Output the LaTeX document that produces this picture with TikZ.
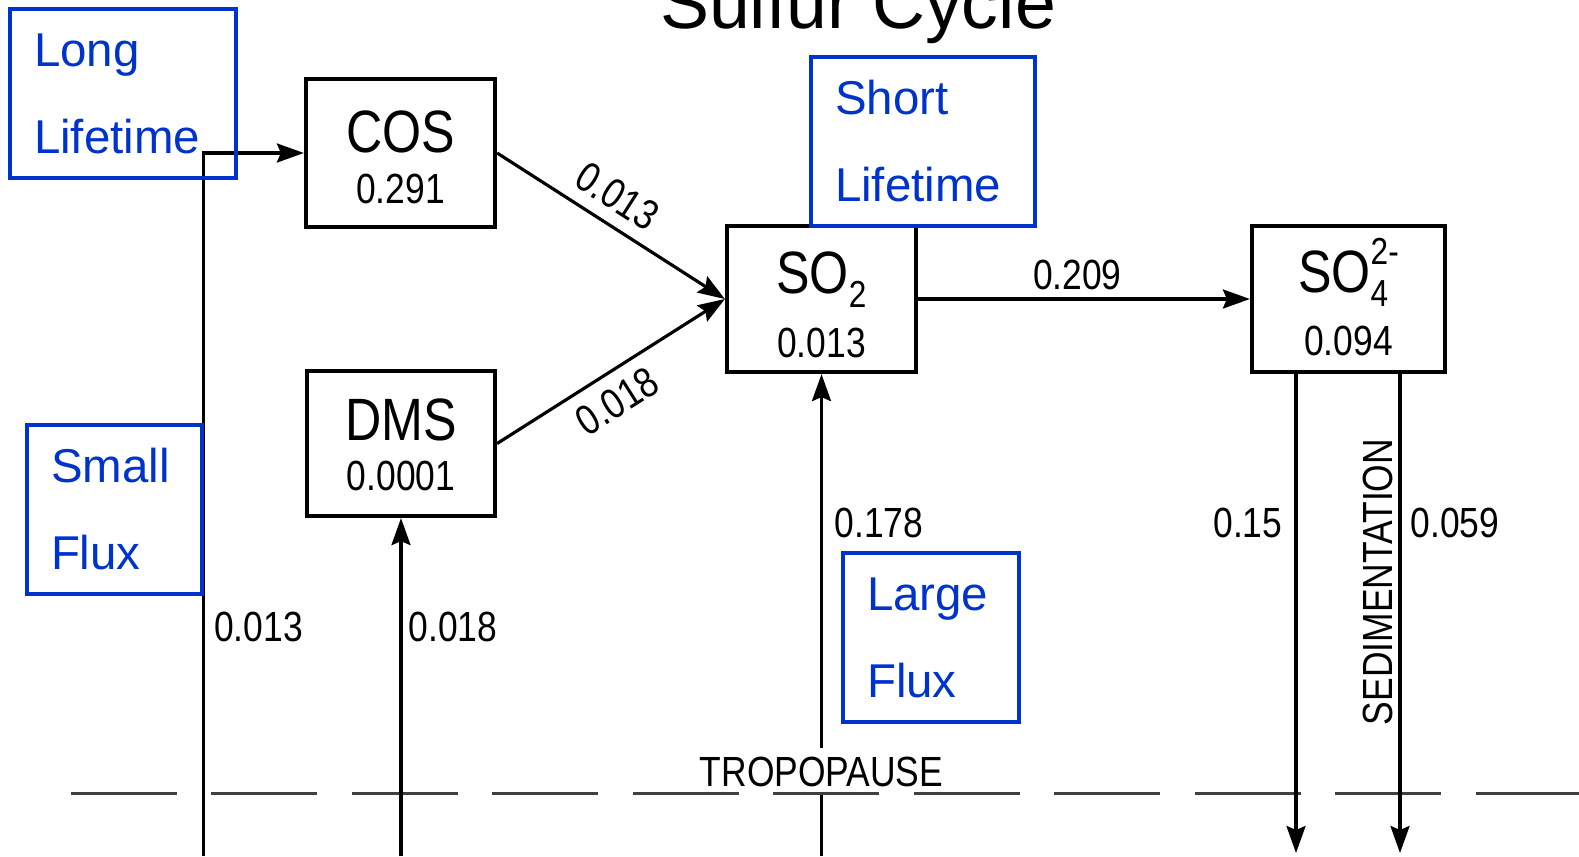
\documentclass[tikz,border=0pt]{standalone}
\usepackage{fontspec}
\setmainfont{Liberation Sans}
\newfontfamily\scanfont[FakeStretch=0.84]{Liberation Sans}
\usetikzlibrary{arrows.meta}
\definecolor{noteBlue}{RGB}{0,51,204}

\begin{document}
\begin{tikzpicture}[
  species/.style={
    draw,
    line width=1.2pt,
    inner sep=0pt
  },
  big/.style={font={\scanfont\fontsize{17}{20}\selectfont}, inner sep=0pt},
  mass/.style={font={\scanfont\fontsize{12}{14}\selectfont}, inner sep=0pt},
  flux/.style={font={\scanfont\fontsize{12}{14}\selectfont}, inner sep=0pt},
  link/.style={line width=0.9pt},
  flow/.style={line width=0.9pt, -{Stealth[length=0.27cm,width=0.19cm,inset=0.04cm]}},
  tropoline/.style={line width=0.9pt, black!75, dash pattern=on 1.06cm off 0.345cm},
  note/.style={
    draw=noteBlue,
    line width=1.4pt,
    text=noteBlue,
    align=left,
    inner xsep=0.24cm,
    minimum height=1.69cm,
    font={\fontsize{13.5}{24.75}\selectfont}
  }
]
  \useasboundingbox (0,0) rectangle (15.79,8.56);
  \coordinate (base) at (0,0);

  % tropopause
  \coordinate (tropoW) at (0.705,0.625);
  \coordinate (tropoE) at (15.79,0.625);
  \draw[tropoline] (tropoW) -- (tropoE);
  \node[flux, anchor=base, inner ysep=0.075cm] (tropo) at (8.215,0.70) {TROPOPAUSE};

  % reservoirs
  \node[species,minimum width=1.89cm,minimum height=1.48cm] (cos) at (4.005,7.03) {};
  \node[big,anchor=base] (cosname) at ([yshift=0.01cm]cos.center) {COS};
  \node[mass,anchor=base] (cosmass) at ([yshift=-0.50cm]cos.center) {0.291};

  \node[species,minimum width=1.88cm,minimum height=1.45cm] (dms) at (4.01,4.125) {};
  \node[big,anchor=base] (dmsname) at ([yshift=0.035cm]dms.center) {DMS};
  \node[mass,anchor=base] (dmsmass) at ([yshift=-0.465cm]dms.center) {0.0001};

  \node[species,minimum width=1.89cm,minimum height=1.46cm] (so2) at (8.215,5.57) {};
  \node[big,anchor=base] (so2name) at ([yshift=0.06cm]so2.center)
    {SO\raisebox{-0.14cm}{\fontsize{10.7}{12}\selectfont 2}};
  \node[mass,anchor=base] (so2mass) at ([yshift=-0.58cm]so2.center) {0.013};

  \node[species,minimum width=1.93cm,minimum height=1.46cm] (so4) at (13.485,5.57) {};
  \node[big,anchor=base] (so4name) at ([yshift=0.07cm]so4.center)
    {SO\rlap{\raisebox{-0.14cm}{\fontsize{10.7}{12}\selectfont 4}}\raisebox{0.28cm}{\fontsize{10.7}{12}\selectfont 2-}};
  \node[mass,anchor=base] (so4mass) at ([yshift=-0.565cm]so4.center) {0.094};

  % sources and sinks
  \coordinate (cossrc) at (2.035,0);
  \coordinate (dmssrc) at (dms.south |- base);
  \coordinate (so2src) at (so2.south |- base);
  \coordinate (washout) at (12.96,0.03);
  \coordinate (sedsink) at (14.00,0.03);

  \draw[flow] (cossrc) |- (cos.west);
  \draw[flow] (dmssrc) -- (dms.south);
  \draw[link] (so2src) -- (tropo.south);
  \draw[flow] (tropo.north) -- (so2.south);
  \draw[flow] (so4.south -| washout) -- (washout);
  \draw[flow] (so4.south -| sedsink) -- (sedsink);

  \node[flux,anchor=base west] (cosin) at (2.135,2.145) {0.013};
  \node[flux,anchor=base west] (dmsin) at (4.08,2.145) {0.018};
  \node[flux,anchor=base west] (so2in) at (8.34,3.19) {0.178};
  \node[flux,anchor=base east] (washlbl) at (12.83,3.19) {0.15};
  \node[flux,anchor=base west] (sedlbl) at (14.10,3.19) {0.059};
  \node[flux,rotate=90,anchor=base] (sedim) at (13.92,2.74) {SEDIMENTATION};

  % conversions
  \draw[flow] (cos.east) -- node[flux,sloped,above,pos=0.46,inner sep=0.12cm] (cosox) {0.013} (so2.west);
  \draw[flow] (dms.east) -- node[flux,sloped,below,pos=0.46,inner sep=0.12cm] (dmsox) {0.018} (so2.west);
  \draw[flow] (so2.east) -- node[flux,pos=0.48,anchor=base,yshift=0.1cm] (so2ox) {0.209} (so4.west);

  % annotations
  \node[note,text width=1.78cm] (longlife) at (1.23,7.625) {Long\\Lifetime};
  \node[note,text width=1.76cm] (shortlife) at (9.23,7.145) {Short\\Lifetime};
  \node[note,text width=1.27cm] (smallflux) at (1.145,3.465) {Small\\Flux};
  \node[note,text width=1.28cm] (largeflux) at (9.31,2.185) {Large\\Flux};

  \node[font={\fontsize{20.9}{24}\selectfont},anchor=base] (title) at (8.58,8.28) {Sulfur Cycle};
\end{tikzpicture}
\end{document}
